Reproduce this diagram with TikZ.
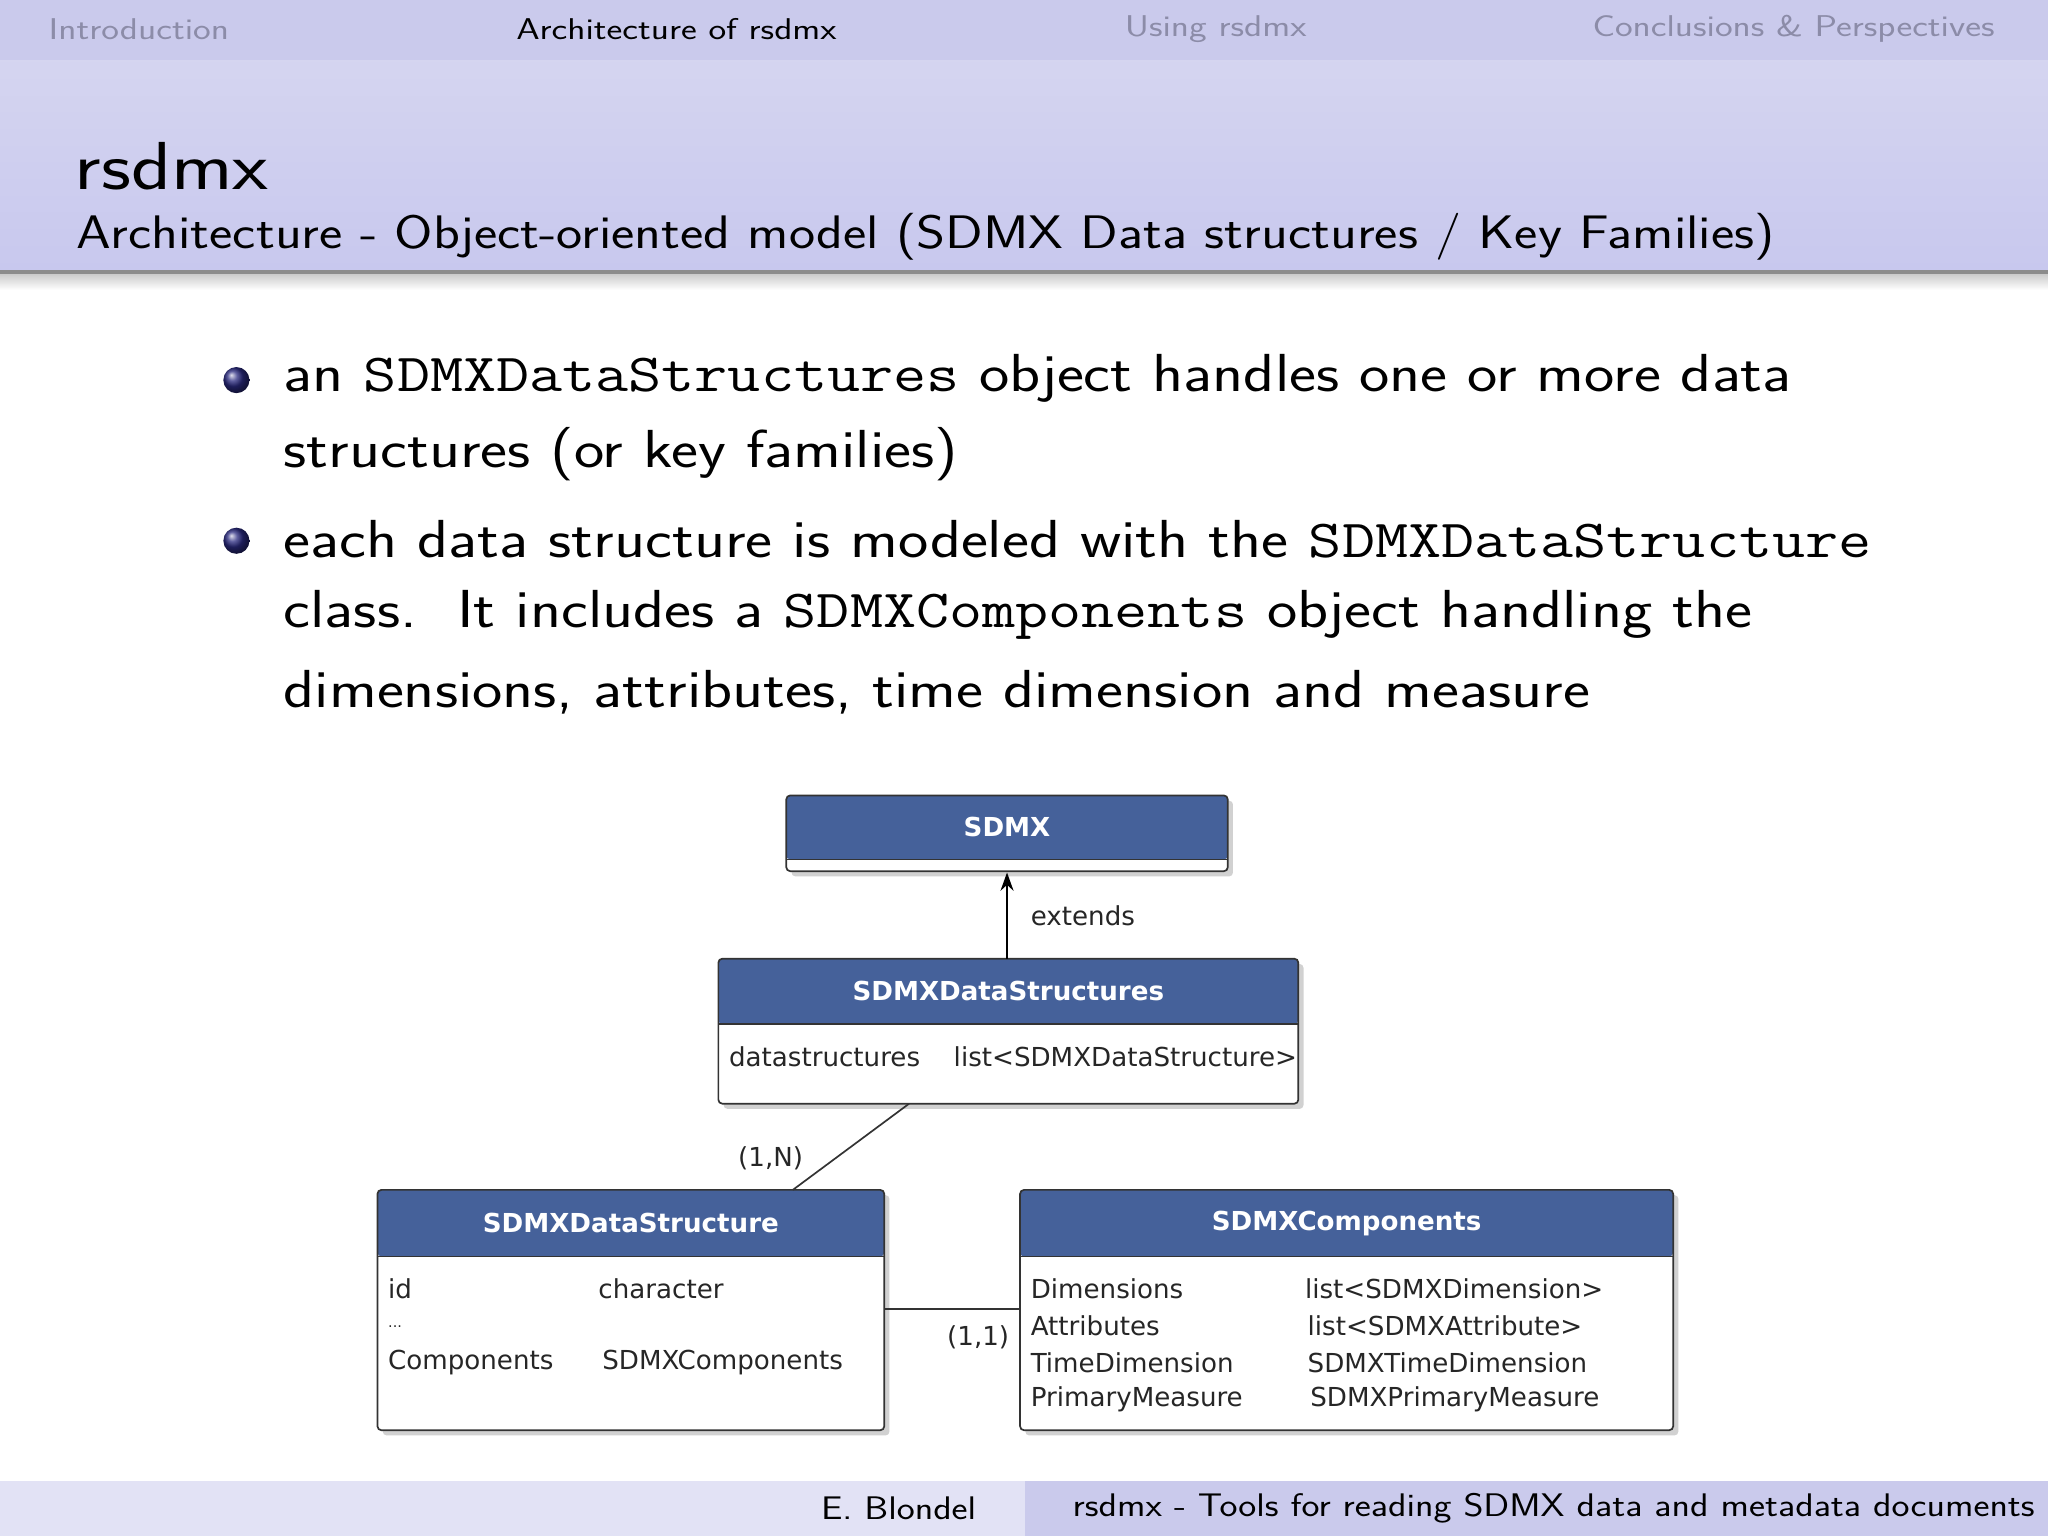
\documentclass[tikz,border=0pt]{standalone}
\usepackage{fontspec}
\setsansfont{Latin Modern Sans}
\setmonofont{Latin Modern Mono}
\newfontfamily\umlfont{DejaVu Sans}
\usetikzlibrary{arrows.meta}
\definecolor{navbg}{HTML}{CACAEC}
\definecolor{titlebg}{HTML}{C8C8EE}
\definecolor{navgray}{HTML}{8C8CA8}
\definecolor{umlblue}{HTML}{45619A}
\definecolor{ballblue}{HTML}{2A2A80}
\tikzset{
 wide/.style={xscale=#1,transform shape},
 navtxt/.style={anchor=west,inner sep=0,font=\sffamily\fontsize{23}{26}\selectfont,text=navgray,wide=1.25},
 bodytxt/.style={anchor=west,inner sep=0,font=\sffamily\fontsize{41}{48}\selectfont,wide=1.2},
 umlhead/.style={anchor=center,inner sep=0,font=\umlfont\bfseries\fontsize{20}{24}\selectfont,text=white},
 umltxt/.style={anchor=west,inner sep=0,font=\umlfont\fontsize{20}{24}\selectfont,text=black!85},
 boxline/.style={draw=black!80,line width=1.3pt,rounded corners=3pt},
}
\newcommand{\umlbox}[6]{% name, x1,y1,x2,y2, headbottom
 \fill[black!18,rounded corners=3pt] (#2+4,#3+4) rectangle (#4+4,#5+4);
 \fill[white,rounded corners=3pt] (#2,#3) rectangle (#4,#5);
 \fill[umlblue,rounded corners=3pt] (#2,#3) rectangle (#4,#6);
 \draw[black!80,line width=1.3pt] (#2,#6) -- (#4,#6);
 \draw[boxline] (#2,#3) rectangle (#4,#5);
 \coordinate (#1-c) at ({(#2+#4)/2},{(#3+#6)/2});
}
\begin{document}
\begin{tikzpicture}[x=1pt,y=-1pt]
\useasboundingbox (0,0) rectangle (1568,1176);
\fill[white] (0,0) rectangle (1568,1176);
% nav bar
\fill[navbg] (0,0) rectangle (1568,46);
\shade[top color=navbg!80,bottom color=titlebg] (0,46) rectangle (1568,207);
\fill[black!45] (0,207) rectangle (1568,210);
\shade[top color=black!20,bottom color=white] (0,210) rectangle (1568,222);
\node[navtxt] (n1) at (37,22) {Introduction};
\node[navtxt,text=black] (n2) at (395,22) {Architecture of rsdmx};
\node[navtxt] (n3) at (861,22) {Using rsdmx};
\node[navtxt] (n4) at (1219,22) {Conclusions \& Perspectives};
\node[anchor=west,inner sep=0,font=\sffamily\fontsize{52}{60}\selectfont,wide=1.22] (t1) at (57,127) {rsdmx};
\node[anchor=west,inner sep=0,font=\sffamily\fontsize{36}{42}\selectfont,wide=1.18] (t2) at (58,181) {Architecture - Object-oriented model (SDMX Data structures / Key Families)};
% bullets
\shade[ball color=ballblue] (181,291) circle (10);
\shade[ball color=ballblue] (181,414) circle (10);
\node[bodytxt] (b1) at (217,290) {an \texttt{SDMXDataStructures} object handles one or more data};
\node[bodytxt] (b2) at (217,348) {structures (or key families)};
\node[bodytxt] (b3) at (217,413) {each data structure is modeled with the \texttt{SDMXDataStructure}};
\node[bodytxt] (b4) at (217,471) {class.\ \ It includes a \texttt{SDMXComponents} object handling the};
\node[bodytxt] (b5) at (217,530) {dimensions, attributes, time dimension and measure};
% UML
\umlbox{sdmx}{602}{609}{940}{667}{658}
\node[umlhead] (hsdmx) at (sdmx-c) {SDMX};
\umlbox{dss}{550}{734}{994}{845}{784}
\node[umlhead] (hdss) at (dss-c) {SDMXDataStructures};
\node[umltxt] (r1) at (558,809) {datastructures};
\node[umltxt] (r2) at (730,809) {list<SDMXDataStructure>};
\umlbox{ds}{289}{911}{677}{1095}{962}
\node[umlhead] (hds) at (ds-c) {SDMXDataStructure};
\node[umltxt] (d1) at (297,987) {id};
\node[umltxt] (d2) at (458,987) {character};
\node[umltxt,font=\umlfont\fontsize{11}{12}\selectfont] (d3) at (297,1016) {...};
\node[umltxt] (d4) at (297,1043) {Components};
\node[umltxt] (d5) at (461,1043) {SDMXComponents};
\umlbox{cp}{781}{911}{1281}{1095}{962}
\node[umlhead] (hcp) at (cp-c) {SDMXComponents};
\node[umltxt] (c1) at (789,987) {Dimensions};
\node[umltxt] (c2) at (999,987) {list<SDMXDimension>};
\node[umltxt] (c3) at (789,1015) {Attributes};
\node[umltxt] (c4) at (1001,1015) {list<SDMXAttribute>};
\node[umltxt] (c5) at (789,1043) {TimeDimension};
\node[umltxt] (c6) at (1001,1043) {SDMXTimeDimension};
\node[umltxt] (c7) at (789,1071) {PrimaryMeasure};
\node[umltxt] (c8) at (1003,1071) {SDMXPrimaryMeasure};
% connectors
\coordinate (a1) at (771,734);
\coordinate (a2) at (771,668);
\draw[black,line width=1.3pt,-{Stealth[length=14pt,width=10pt]}] (a1) -- (a2);
\node[umltxt] (ext) at (789,701) {extends};
\coordinate (l1) at (696,845);
\coordinate (l2) at (607,911);
\draw[black!80,line width=1.3pt] (l1) -- (l2);
\node[umltxt] (m1) at (565,887) {(1,N)};
\coordinate (k1) at (677,1002);
\coordinate (k2) at (781,1002);
\draw[black!80,line width=1.3pt] (k1) -- (k2);
\node[umltxt] (m2) at (725,1024) {(1,1)};
% footer
\fill[navbg!55] (0,1134) rectangle (785,1176);
\fill[navbg] (785,1134) rectangle (1568,1176);
\node[anchor=center,inner sep=0,font=\sffamily\fontsize{25}{28}\selectfont,wide=1.17] (f1) at (688,1155) {E. Blondel};
\begin{scope}
\clip (785,1134) rectangle (1568,1176);
\node[anchor=west,inner sep=0,font=\sffamily\fontsize{25}{28}\selectfont,wide=1.17] (f2) at (821,1155) {rsdmx - Tools for reading SDMX data and metadata documents in R};
\end{scope}
\end{tikzpicture}
\end{document}
